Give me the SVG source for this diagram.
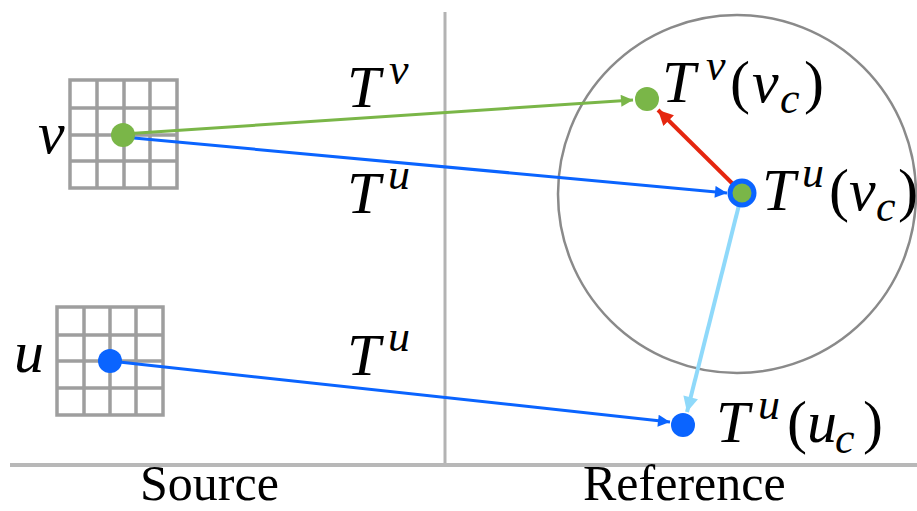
<svg xmlns="http://www.w3.org/2000/svg" width="917" height="511" viewBox="0 0 917 511">
<style>
.grid{stroke:#9e9e9e;stroke-width:3.5;fill:#fff}
.sep{stroke:#b3b3b3;stroke-width:3;fill:none}
.m{font-family:"Liberation Serif","Times New Roman",serif;font-style:italic;fill:#000}
.r{font-family:"Liberation Serif","Times New Roman",serif;fill:#000}
.big{font-size:60px}
.sup{font-size:44px}
.lbl{font-size:50px}
</style>
<defs>
<marker id="ag" viewBox="0 0 10 10" refX="10" refY="5" markerUnits="userSpaceOnUse" markerWidth="13" markerHeight="12" orient="auto"><path d="M0,0 L10,5 L0,10 z" fill="#7ab648"/></marker>
<marker id="ab" viewBox="0 0 10 10" refX="10" refY="5" markerUnits="userSpaceOnUse" markerWidth="13" markerHeight="12" orient="auto"><path d="M0,0 L10,5 L0,10 z" fill="#0a64ff"/></marker>
<marker id="ar" viewBox="0 0 10 10" refX="10" refY="5" markerUnits="userSpaceOnUse" markerWidth="16" markerHeight="15" orient="auto"><path d="M0,0 L10,5 L0,10 z" fill="#e5260f"/></marker>
<marker id="al" viewBox="0 0 10 10" refX="10" refY="5" markerUnits="userSpaceOnUse" markerWidth="16" markerHeight="15" orient="auto"><path d="M0,0 L10,5 L0,10 z" fill="#8fd9fa"/></marker>
</defs>
<rect width="917" height="511" fill="#fff"/>
<g id="frame">
<line class="sep" x1="445" y1="12" x2="445" y2="465"/>
<line x1="10" y1="465" x2="917" y2="465" stroke="#b8b8b8" stroke-width="4"/>
<circle cx="737" cy="194" r="179" fill="none" stroke="#8a8a8a" stroke-width="2.5"/>
</g>
<g id="grid-v">
<rect class="grid" x="70" y="80" width="107" height="108"/>
<path class="grid" d="M97,80V188M124,80V188M150,80V188M70,108H177M70,135H177M70,161H177"/>
</g>
<g id="grid-u">
<rect class="grid" x="57" y="307" width="106" height="108"/>
<path class="grid" d="M84,307V415M110,307V415M136,307V415M57,335H163M57,361H163M57,388H163"/>
</g>
<g id="connectors">
<line x1="123" y1="134" x2="633" y2="100" stroke="#7ab648" stroke-width="3" marker-end="url(#ag)"/>
<line x1="123" y1="137" x2="727" y2="193" stroke="#0a64ff" stroke-width="3" marker-end="url(#ab)"/>
<line x1="110" y1="361" x2="670" y2="422" stroke="#0a64ff" stroke-width="3" marker-end="url(#ab)"/>
<line x1="742" y1="193" x2="658" y2="110" stroke="#e5260f" stroke-width="4" marker-end="url(#ar)"/>
<line x1="742" y1="193" x2="687" y2="412" stroke="#8fd9fa" stroke-width="4" marker-end="url(#al)"/>
</g>
<g id="node-v">
<circle cx="123" cy="135" r="12" fill="#7ab648"/>
<text class="m big" x="38" y="153">v</text>
</g>
<g id="node-u">
<circle cx="110" cy="361" r="12" fill="#0a64ff"/>
<text class="m big" x="14" y="372">u</text>
</g>
<g id="node-Tv-vc">
<circle cx="647" cy="99" r="12" fill="#7ab648"/>
<text class="m big" x="662" y="102">T</text>
<text class="m sup" x="706" y="80">v</text>
<text class="r big" x="730" y="102">(</text>
<text class="m big" x="752" y="102">v</text>
<text class="m sup" x="780" y="113">c</text>
<text class="r big" x="804" y="102">)</text>
</g>
<g id="node-Tu-vc">
<circle cx="742" cy="193" r="12" fill="#7ab648" stroke="#0a64ff" stroke-width="5"/>
<text class="m big" x="762" y="210">T</text>
<text class="m sup" x="802" y="187">u</text>
<text class="r big" x="829" y="210">(</text>
<text class="m big" x="849" y="210">v</text>
<text class="m sup" x="876" y="221">c</text>
<text class="r big" x="898" y="210">)</text>
</g>
<g id="node-Tu-uc">
<circle cx="683" cy="425" r="12" fill="#0a64ff"/>
<text class="m big" x="716" y="442">T</text>
<text class="m sup" x="758" y="419">u</text>
<text class="r big" x="787" y="442">(</text>
<text class="m big" x="807" y="442">u</text>
<text class="m sup" x="835" y="453">c</text>
<text class="r big" x="863" y="442">)</text>
</g>
<g id="labels">
<text class="m big" x="347" y="107">T</text>
<text class="m sup" x="389" y="84">v</text>
<text class="m big" x="347" y="213">T</text>
<text class="m sup" x="388" y="189">u</text>
<text class="m big" x="347" y="375">T</text>
<text class="m sup" x="388" y="351">u</text>
<text class="r lbl" x="140" y="500">Source</text>
<text class="r lbl" x="583" y="500">Reference</text>
</g>
</svg>
